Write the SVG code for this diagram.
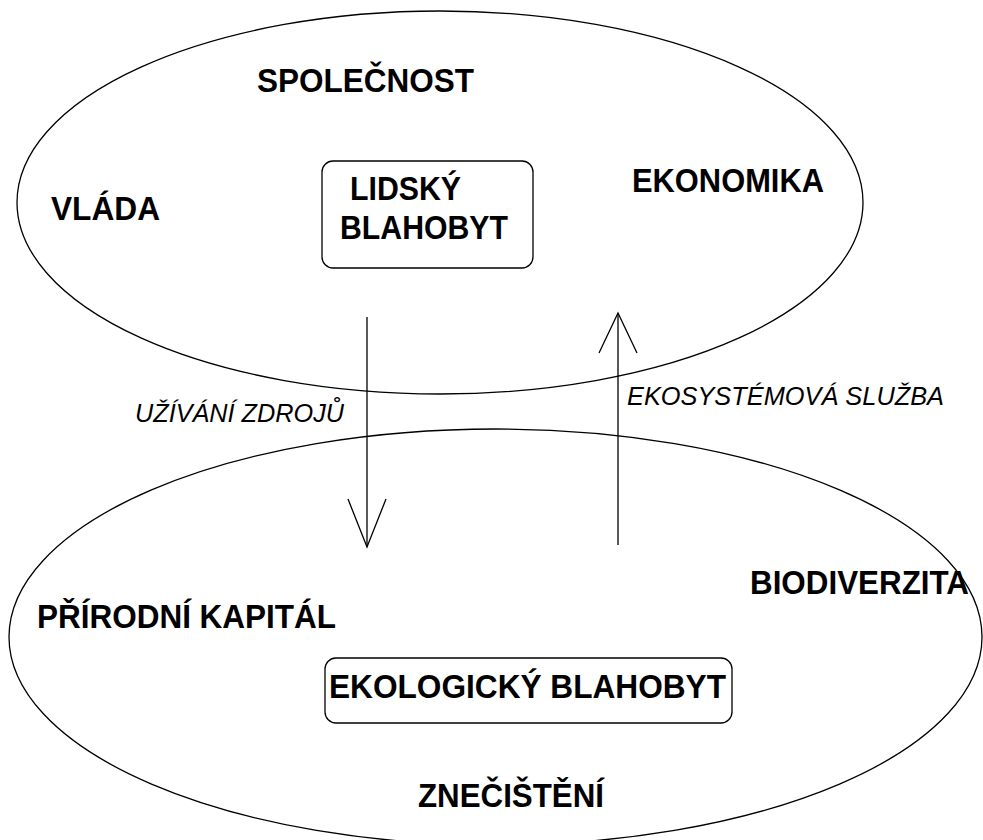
<svg xmlns="http://www.w3.org/2000/svg" width="983" height="840" viewBox="0 0 983 840">
<style>
.shape{fill:none;stroke:#000;stroke-width:1.3}
.lbl{font-family:"Liberation Sans",Arial,sans-serif;font-weight:bold;font-size:33px;fill:#000}
.it{font-family:"Liberation Sans",Arial,sans-serif;font-style:italic;font-size:25px;fill:#000}
.conn{fill:none;stroke:#000;stroke-width:1.3}
</style>
<rect width="983" height="840" fill="#fff"/>
<g id="spolecnost">
<ellipse class="shape" cx="440" cy="202.5" rx="423" ry="191.5"/>
<text class="lbl" x="257" y="92" textLength="217" lengthAdjust="spacingAndGlyphs">SPOLEČNOST</text>
</g>
<g id="vlada"><text class="lbl" x="51" y="220" textLength="109" lengthAdjust="spacingAndGlyphs">VLÁDA</text></g>
<g id="ekonomika"><text class="lbl" x="632" y="192" textLength="192" lengthAdjust="spacingAndGlyphs">EKONOMIKA</text></g>
<g id="lidsky-blahobyt">
<rect class="shape" x="322" y="161" width="211" height="107" rx="11"/>
<text class="lbl" x="350" y="200" textLength="111" lengthAdjust="spacingAndGlyphs">LIDSKÝ</text>
<text class="lbl" x="340" y="239" textLength="168" lengthAdjust="spacingAndGlyphs">BLAHOBYT</text>
</g>
<g id="prirodni-kapital-oblast">
<ellipse class="shape" cx="495.5" cy="637" rx="486.5" ry="208"/>
</g>
<g id="prirodni-kapital"><text class="lbl" x="37" y="628" textLength="299" lengthAdjust="spacingAndGlyphs">PŘÍRODNÍ KAPITÁL</text></g>
<g id="biodiverzita"><text class="lbl" x="750" y="594" textLength="219" lengthAdjust="spacingAndGlyphs">BIODIVERZITA</text></g>
<g id="ekologicky-blahobyt">
<rect class="shape" x="325" y="658" width="407" height="65" rx="11"/>
<text class="lbl" x="329" y="698" textLength="397" lengthAdjust="spacingAndGlyphs">EKOLOGICKÝ BLAHOBYT</text>
</g>
<g id="znecisteni"><text class="lbl" x="418" y="807" textLength="186" lengthAdjust="spacingAndGlyphs">ZNEČIŠTĚNÍ</text></g>
<g id="connectors">
<line class="conn" x1="367" y1="317" x2="367" y2="547"/>
<polyline class="conn" points="348,499 367,547 386,499"/>
<text class="it" x="135" y="422" textLength="209" lengthAdjust="spacingAndGlyphs">UŽÍVÁNÍ ZDROJŮ</text>
<line class="conn" x1="618" y1="545" x2="618" y2="313"/>
<polyline class="conn" points="599,353 618,313 637,353"/>
<text class="it" x="627" y="405" textLength="317" lengthAdjust="spacingAndGlyphs">EKOSYSTÉMOVÁ SLUŽBA</text>
</g>
</svg>
